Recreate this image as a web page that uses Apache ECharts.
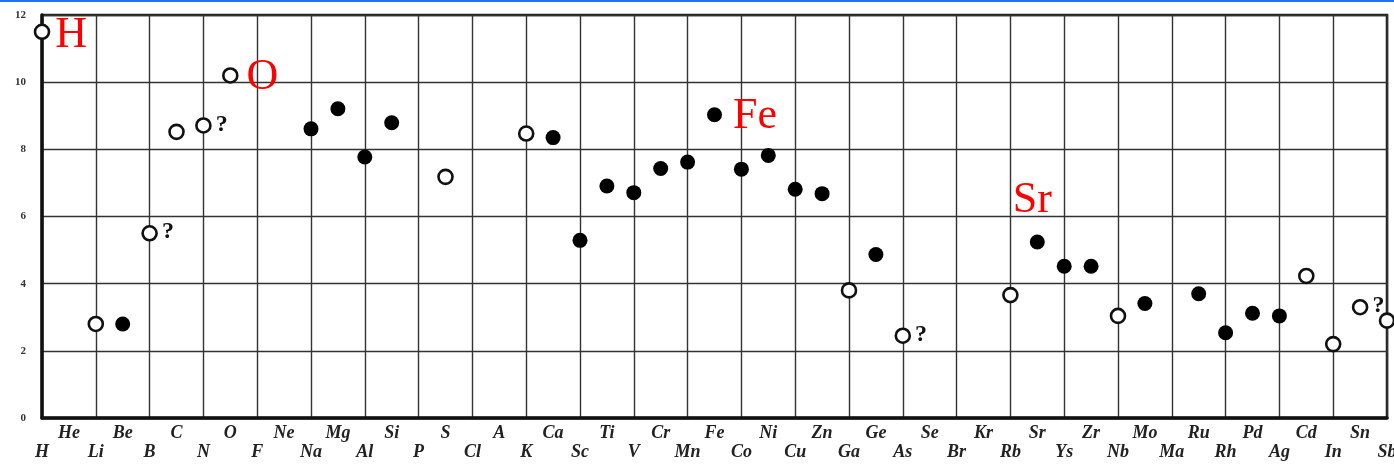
<!DOCTYPE html>
<html>
<head>
<meta charset="utf-8">
<script src="https://cdn.jsdelivr.net/npm/echarts@6/dist/echarts.min.js"></script>
<style>
html,body{margin:0;padding:0;background:#fff;}
#chart{width:1394px;height:466px;}
</style>
</head>
<body>
<div id="chart"></div>
<script>
// Elements in order of atomic number (labels as printed)
const elements = ['H','He','Li','Be','B','C','N','O','F','Ne','Na','Mg','Al','Si','P','S','Cl','A','K','Ca',
  'Sc','Ti','V','Cr','Mn','Fe','Co','Ni','Cu','Zn','Ga','Ge','As','Se','Br','Kr','Rb','Sr','Ys','Zr',
  'Nb','Mo','Ma','Ru','Rh','Pd','Ag','Cd','In','Sn','Sb'];
const yTicks = [0, 2, 4, 6, 8, 10, 12];

// Open circles
const openEls  = ['H','Li','B','C','N','O','S','K','Ga','As','Rb','Nb','Cd','In','Sn','Sb'];
const openVals = [11.5, 2.8, 5.5, 8.52, 8.71, 10.2, 7.18, 8.47, 3.8, 2.45, 3.66, 3.04, 4.23, 2.2, 3.3, 2.9];

// Filled circles
const filledEls  = ['Be','Na','Mg','Al','Si','Ca','Sc','Ti','V','Cr','Mn','Fe','Co','Ni','Cu','Zn','Ge','Sr','Ys','Zr','Mo','Ru','Rh','Pd','Ag'];
const filledVals = [2.8, 8.61, 9.21, 7.77, 8.79, 8.35, 5.29, 6.91, 6.71, 7.43, 7.62, 9.03, 7.41, 7.82, 6.81, 6.68, 4.87, 5.24, 4.52, 4.52, 3.41, 3.70, 2.54, 3.12, 3.04];

// Uncertain values marked with "?"
const questionEls = ['B','N','As','Sn'];
// Highlighted elements (red annotations)
const highlightEls = ['H','O','Fe','Sr'];

const redStyle = {
  'H':  {position:'right', distance:4,  offset:[1, 4]},
  'O':  {position:'right', distance:8,  offset:[0, 2]},
  'Fe': {position:'right', distance:10, offset:[1, 2]},
  'Sr': {position:'top',   distance:4,  offset:[-5, -8]}
};

function makeItem(name, val) {
  const item = {value: [name, val]};
  if (highlightEls.indexOf(name) >= 0) {
    const s = redStyle[name];
    item.label = {
      show: true, formatter: name, position: s.position, distance: s.distance, offset: s.offset,
      color: '#ff0000', fontSize: 44, fontFamily: '"Liberation Serif","DejaVu Serif",serif'
    };
  } else if (questionEls.indexOf(name) >= 0) {
    item.label = {
      show: true, formatter: '?', position: 'right', distance: 4, offset: [0, -1],
      color: '#111', fontSize: 24, fontWeight: 'bold', fontFamily: '"Liberation Serif","DejaVu Serif",serif'
    };
  }
  return item;
}

const chart = echarts.init(document.getElementById('chart'));
chart.setOption({
  backgroundColor: '#fff',
  animation: false,
  graphic: [{
    type: 'rect', left: 0, top: 0, shape: {width: 1394, height: 2},
    style: {fill: '#1f6ff0'}, silent: true
  }],
  grid: {
    left: 42, right: 7, top: 15, bottom: 48, show: true,
    borderColor: '#222', borderWidth: 2.5, backgroundColor: 'transparent',
    containLabel: false, outerBoundsMode: 'none'
  },
  xAxis: {
    type: 'category',
    data: elements,
    boundaryGap: false,
    axisLine: {show: true, lineStyle: {color: '#111', width: 3.5}},
    axisTick: {show: false},
    splitLine: {show: true, interval: function (i) { return i % 2 === 0; }, lineStyle: {color: '#333', width: 1.4}},
    axisLabel: {
      interval: 0,
      margin: 6,
      color: '#222',
      fontSize: 18,
      lineHeight: 19,
      fontStyle: 'italic',
      fontWeight: 'bold',
      fontFamily: '"Liberation Serif","DejaVu Serif",serif',
      formatter: function (v, i) { return (i % 2 === 0) ? '\n' + v : v; }
    }
  },
  yAxis: {
    type: 'value',
    min: yTicks[0], max: yTicks[yTicks.length - 1], interval: 2,
    axisLine: {show: true, lineStyle: {color: '#111', width: 3.5}},
    axisTick: {show: false},
    splitLine: {show: true, lineStyle: {color: '#333', width: 1.4}},
    axisLabel: {
      margin: 16, color: '#333', fontSize: 11, fontWeight: 'bold',
      fontFamily: '"Liberation Serif","DejaVu Serif",serif'
    }
  },
  series: [
    {
      type: 'scatter',
      name: 'open',
      symbol: 'circle',
      symbolSize: 14,
      itemStyle: {color: '#fff', borderColor: '#111', borderWidth: 2.6, opacity: 1},
      data: openEls.map((n, i) => makeItem(n, openVals[i])),
      z: 5
    },
    {
      type: 'scatter',
      name: 'filled',
      symbol: 'circle',
      symbolSize: 15,
      itemStyle: {color: '#000', opacity: 1},
      data: filledEls.map((n, i) => makeItem(n, filledVals[i])),
      z: 5
    }
  ]
});
</script>
</body>
</html>
